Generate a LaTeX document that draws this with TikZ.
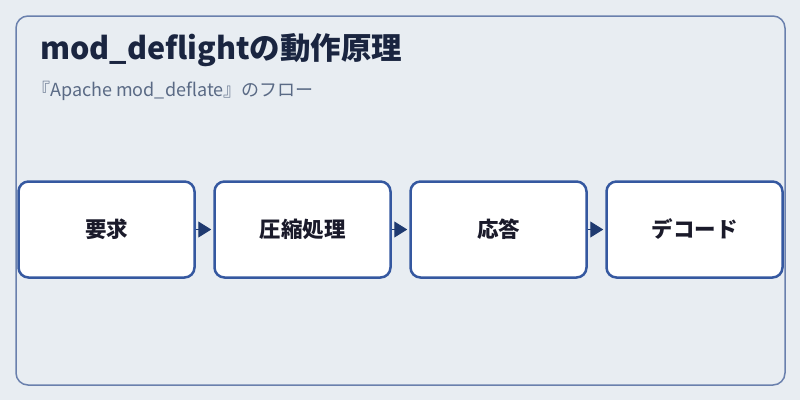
\documentclass[tikz,border=0pt]{standalone}
\usepackage{fontspec}
\setmainfont{Noto Sans CJK JP}
\usepackage{tikz}
\usetikzlibrary{positioning,arrows.meta}
\definecolor{canvas}{HTML}{E8EDF2}
\definecolor{frameline}{HTML}{6A80AD}
\definecolor{boxline}{HTML}{3558A0}
\definecolor{arrowtip}{HTML}{1F3A70}
\definecolor{titletext}{HTML}{1A2540}
\definecolor{subtext}{HTML}{5A6A85}
\definecolor{steptext}{HTML}{1A1A2A}

\begin{document}
\begin{tikzpicture}[
  x=1pt, y=-1pt,
  stepbox/.style={draw=boxline, line width=2.5pt, fill=white, rounded corners=10pt,
    minimum width=176pt, minimum height=96pt, align=center,
    font=\fontsize{21.5}{24}\selectfont\bfseries, text=steptext},
  flow/.style={draw=arrowtip, line width=1pt, -{Triangle[length=13pt, width=16pt]}, shorten >=2pt},
]

% Background and frame
\fill[canvas] (0,0) rectangle (800,400);
\draw[frameline, line width=1.5pt, rounded corners=12pt] (16,16) rectangle (785,385);

% Title
\node[anchor=base west, font=\fontsize{30.5}{34}\selectfont\bfseries, text=titletext, inner sep=0pt] (title) at (40,59) {mod\_deflightの動作原理};
\node[anchor=base west, font=\fontsize{18}{21}\selectfont, text=subtext, inner sep=0pt] (subtitle) at (32,96) {『Apache mod\_deflate』のフロー};

% Steps
\foreach \i/\name in {0/要求, 1/圧縮処理, 2/応答, 3/デコード} {
  \node[stepbox] (s\i) at (106.5+\i*196, 229.5) {\name};
}

% Arrows
\foreach \i/\j in {0/1, 1/2, 2/3} {
  \draw[flow] (s\i.east) -- (s\j.west);
}

\end{tikzpicture}
\end{document}
